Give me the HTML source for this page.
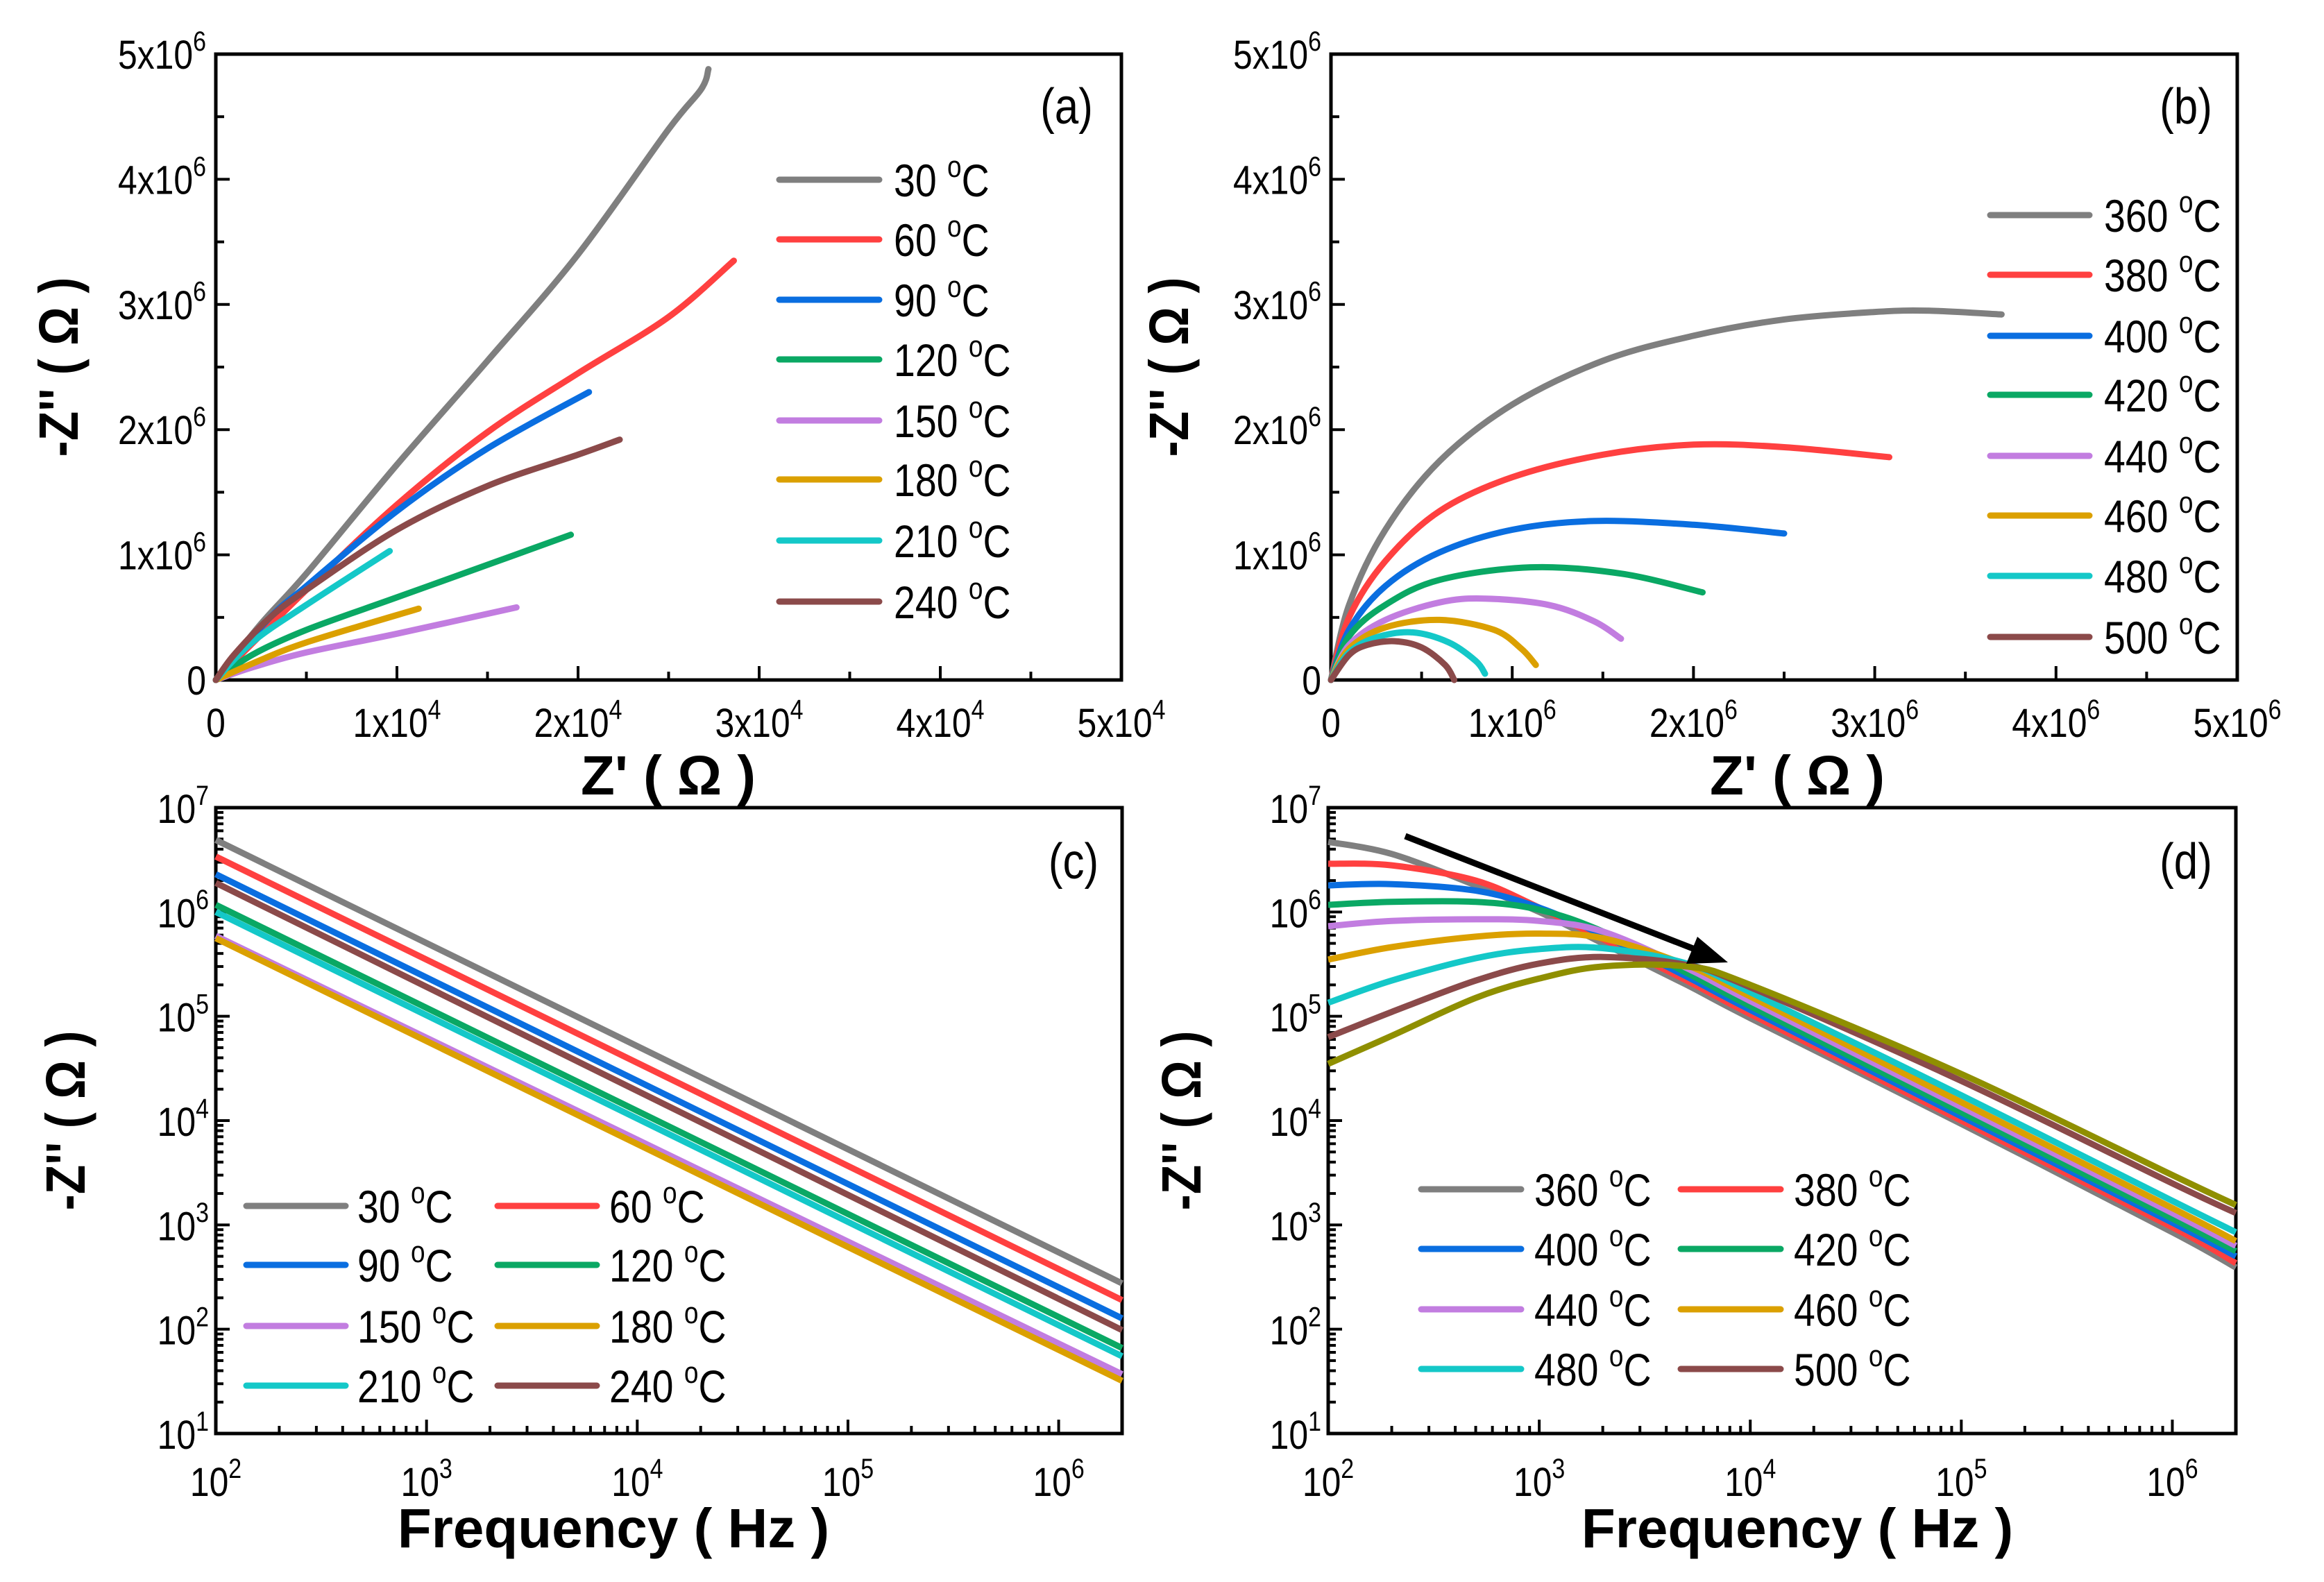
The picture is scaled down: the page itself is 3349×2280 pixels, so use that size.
<!DOCTYPE html>
<html><head><meta charset="utf-8"><style>
html,body{margin:0;padding:0;background:#fff;}
svg{display:block;font-family:"Liberation Sans",sans-serif;}
</style></head><body>
<svg id="fig" width="3349" height="2280" viewBox="0 0 3349 2280" xmlns="http://www.w3.org/2000/svg"></svg>
<script>
// ---------- DATA ----------
const colorsA = ['#7f7f7f','#ff4040','#0a6ee0','#0aa864','#c27de0','#dba000','#14c8c8','#8b4a4a'];
const colorsB = ['#7f7f7f','#ff4040','#0a6ee0','#0aa864','#c27de0','#dba000','#14c8c8','#8b4a4a','#8f8f00'];
const labelsLow = ['30','60','90','120','150','180','210','240'];
const labelsHigh = ['360','380','400','420','440','460','480','500'];

// (a) Nyquist low-T: [Z', -Z'']
const nyqA_30 = [[0,0],[2500,0.45e6],[5000,0.85e6],[10000,1.72e6],[15000,2.55e6],[20000,3.4e6],[25000,4.4e6],[26800,4.72e6],[27200,4.88e6]];
const nyqA_60 = [[0,0],[5000,0.72e6],[10000,1.4e6],[15000,1.98e6],[20000,2.45e6],[25000,2.9e6],[28600,3.35e6]];
const nyqA_90 = [[0,0],[3000,0.5e6],[5000,0.75e6],[10000,1.35e6],[15000,1.85e6],[20600,2.3e6]];
const nyqA_120 = [[0,0],[2000,0.2e6],[5000,0.4e6],[10000,0.66e6],[15000,0.92e6],[19600,1.16e6]];
const nyqA_150 = [[0,0],[2000,0.1e6],[5000,0.22e6],[10000,0.37e6],[16600,0.58e6]];
const nyqA_180 = [[0,0],[2000,0.13e6],[5000,0.3e6],[11200,0.57e6]];
const nyqA_210 = [[0,0],[2000,0.3e6],[5000,0.6e6],[9600,1.03e6]];
const nyqA_240 = [[0,0],[1000,0.2e6],[3000,0.5e6],[5000,0.72e6],[10000,1.2e6],[15000,1.55e6],[20000,1.8e6],[22300,1.92e6]];
const seriesA = [nyqA_30,nyqA_60,nyqA_90,nyqA_120,nyqA_150,nyqA_180,nyqA_210,nyqA_240];

// (b) Nyquist high-T (units 1e6 Ohm)
const nyqB_360 = [[0,0],[0.1,0.6],[0.3,1.2],[0.6,1.75],[1.0,2.2],[1.5,2.55],[2.0,2.75],[2.5,2.88],[3.0,2.94],[3.3,2.95],[3.7,2.92]];
const nyqB_380 = [[0,0],[0.1,0.5],[0.3,0.95],[0.6,1.35],[1.0,1.62],[1.5,1.8],[2.0,1.88],[2.5,1.86],[3.08,1.78]];
const nyqB_400 = [[0,0],[0.1,0.4],[0.3,0.75],[0.6,1.02],[1.0,1.2],[1.45,1.27],[2.0,1.24],[2.5,1.17]];
const nyqB_420 = [[0,0],[0.1,0.35],[0.3,0.6],[0.6,0.8],[1.1,0.9],[1.6,0.85],[2.05,0.7]];
const nyqB_440 = [[0,0],[0.1,0.28],[0.3,0.48],[0.6,0.62],[0.85,0.65],[1.2,0.6],[1.45,0.47],[1.6,0.33]];
const nyqB_460 = [[0,0],[0.1,0.25],[0.3,0.42],[0.6,0.48],[0.9,0.4],[1.05,0.25],[1.13,0.12]];
const nyqB_480 = [[0,0],[0.1,0.22],[0.25,0.34],[0.45,0.38],[0.65,0.3],[0.8,0.15],[0.85,0.05]];
const nyqB_500 = [[0,0],[0.1,0.2],[0.2,0.28],[0.35,0.31],[0.5,0.26],[0.63,0.12],[0.68,0]];
const seriesB = [nyqB_360,nyqB_380,nyqB_400,nyqB_420,nyqB_440,nyqB_460,nyqB_480,nyqB_500];

// (c) -Z'' at 100 Hz and 2 MHz
const freqC = [1e2, 2e6];
const zC_start = [4.9e6,3.4e6,2.3e6,1.17e6,5.9e5,5.6e5,1.0e6,1.9e6];
const zC_end = [275,190,127,66,37,32,55,98];

// (d) -Z'' vs frequency
const freqD = [1e2,2e2,5e2,1e3,2e3,5e3,1e4,1e5,1e6,2e6];
const zD_360 = [4.7e6,3.6e6,1.8e6,1.0e6,5.0e5,2.0e5,9.6e4,9.3e3,8.5e2,3.9e2];
const zD_380 = [2.9e6,2.8e6,2.0e6,1.1e6,5.5e5,2.2e5,1.05e5,1.0e4,9.5e2,4.3e2];
const zD_400 = [1.8e6,1.85e6,1.6e6,1.1e6,6.0e5,2.4e5,1.15e5,1.1e4,1.05e3,5.0e2];
const zD_420 = [1.17e6,1.25e6,1.25e6,1.05e6,6.5e5,2.6e5,1.25e5,1.2e4,1.15e3,5.6e2];
const zD_440 = [7.3e5,8.2e5,8.5e5,8.2e5,6.5e5,2.9e5,1.4e5,1.35e4,1.3e3,6.3e2];
const zD_460 = [3.5e5,4.6e5,5.8e5,6.2e5,5.6e5,3.1e5,1.55e5,1.5e4,1.45e3,7.0e2];
const zD_480 = [1.35e5,2.2e5,3.6e5,4.4e5,4.5e5,3.2e5,1.7e5,1.75e4,1.7e3,8.5e2];
const zD_500 = [6.3e4,1.1e5,2.2e5,3.2e5,3.7e5,3.1e5,1.9e5,2.4e4,2.5e3,1.3e3];
const zD_520 = [3.5e4,6.5e4,1.5e5,2.3e5,3.0e5,3.0e5,2.0e5,2.8e4,3.0e3,1.55e3];
const seriesD = [zD_360,zD_380,zD_400,zD_420,zD_440,zD_460,zD_480,zD_500,zD_520];

// ---------- DRAWING ----------
const NS='http://www.w3.org/2000/svg';
const svg=document.getElementById('fig');
function mk(tag,attrs,parent){const e=document.createElementNS(NS,tag);for(const k in attrs)e.setAttribute(k,attrs[k]);(parent||svg).appendChild(e);return e;}

function txt(x,y,base,sup,size,anchor,parent,name){
  const t=mk('text',{x:0,y:0,'font-size':size,'text-anchor':anchor,fill:'#000',transform:'translate('+x+','+y+') scale(0.86,1)'},parent);
  
  
  t.appendChild(document.createTextNode(base));
  if(sup!==null){const s=mk('tspan',{'font-size':size*0.68,dy:-size*0.45},t);s.textContent=sup;}
  return t;
}
function legendText(x,y,num,parent,name){
  const t=mk('text',{x:0,y:0,'font-size':66,fill:'#000',transform:'translate('+x+','+y+') scale(0.84,1)'},parent);
  
  
  t.appendChild(document.createTextNode(num+' '));
  const s=mk('tspan',{'font-size':44,dy:-28},t);s.textContent='o';
  const c=mk('tspan',{dy:28},t);c.textContent='C';
  return t;
}
function smooth(pts){
  let d='M'+pts[0][0].toFixed(1)+','+pts[0][1].toFixed(1);
  for(let i=0;i<pts.length-1;i++){
    const p0=pts[Math.max(0,i-1)],p1=pts[i],p2=pts[i+1],p3=pts[Math.min(pts.length-1,i+2)];
    const c1=[p1[0]+(p2[0]-p0[0])/6,p1[1]+(p2[1]-p0[1])/6];
    const c2=[p2[0]-(p3[0]-p1[0])/6,p2[1]-(p3[1]-p1[1])/6];
    d+=' C'+c1[0].toFixed(1)+','+c1[1].toFixed(1)+' '+c2[0].toFixed(1)+','+c2[1].toFixed(1)+' '+p2[0].toFixed(1)+','+p2[1].toFixed(1);
  }
  return d;
}
function frame(g,b){
  const r=mk('rect',{x:b.x0,y:b.y0,width:b.x1-b.x0,height:b.y1-b.y0,fill:'none',stroke:'#000','stroke-width':5},g);
  
  
}
function tick(g,x1,y1,x2,y2){mk('line',{x1:x1,y1:y1,x2:x2,y2:y2,stroke:'#000','stroke-width':4},g);}

function linearPanel(id,b,xmax,xexp,ymax,yexp){
  const g=mk('g',{});
  
  
  const sx=v=>b.x0+(v/xmax)*(b.x1-b.x0), sy=v=>b.y1-(v/ymax)*(b.y1-b.y0);
  for(let i=0;i<=10;i++){
    const v=i*xmax/10, X=sx(v), L=i%2===0?20:12;
    if(i>0&&i<10) tick(g,X,b.y1,X,b.y1-L);
    const Y=sy(i*ymax/10);
    if(i>0&&i<10) tick(g,b.x0,Y,b.x0+L,Y);
  }
  for(let i=0;i<=5;i++){
    txt(sx(i*xmax/5),b.y1+82,i===0?'0':i+'x10',i===0?null:String(xexp),58,'middle',g,'x-tick-label');
    txt(b.x0-14,sy(i*ymax/5)+21,i===0?'0':i+'x10',i===0?null:String(yexp),58,'end',g,'y-tick-label');
  }
  frame(g,b);
  return {g,sx,sy};
}
function logPanel(id,b){
  const g=mk('g',{});
  
  
  const lx0=2, lx1=Math.log10(2e6), ly0=1, ly1=7;
  const sx=v=>b.x0+(Math.log10(v)-lx0)/(lx1-lx0)*(b.x1-b.x0);
  const sy=v=>b.y1-(Math.log10(v)-ly0)/(ly1-ly0)*(b.y1-b.y0);
  for(let e=2;e<=6;e++){for(let m=1;m<=9;m++){const v=m*Math.pow(10,e);if(v>2e6)break;const X=sx(v);if(v>1e2&&v<2e6)tick(g,X,b.y1,X,b.y1-(m===1?20:11));}
    txt(sx(Math.pow(10,e)),b.y1+90,'10',String(e),58,'middle',g,'x-tick-label');}
  for(let e=1;e<=7;e++){for(let m=1;m<=9;m++){const v=m*Math.pow(10,e);if(e===7&&m>1)break;const Y=sy(v);if(v>10&&v<1e7)tick(g,b.x0,Y,b.x0+(m===1?20:11),Y);}
    txt(b.x0-10,sy(Math.pow(10,e))+22,'10',String(e),58,'end',g,'y-tick-label');}
  frame(g,b);
  return {g,sx,sy};
}
function yTitle(x,cy,g){
  const t=mk('text',{x:0,y:0,'font-size':80,'font-weight':'bold','text-anchor':'middle',transform:'translate('+x+','+cy+') rotate(-90) scale(0.87,1)'},g);
  
  
  t.textContent="-Z'' ( \u03A9 )";
}
function xTitle(cx,y,s,g){
  const t=mk('text',{x:cx,y:y,'font-size':80,'font-weight':'bold','text-anchor':'middle'},g);
  
  
  t.textContent=s;
}
function panelLabel(x,y,s,g){
  const t=mk('text',{x:0,y:0,'font-size':72,'text-anchor':'middle',transform:'translate('+x+','+y+') scale(0.86,1)'},g);
  
  
  t.textContent=s;
}
function legendEntry(g,lx0,lx1,tx,y,color,num){
  const l=mk('line',{x1:lx0,y1:y,x2:lx1,y2:y,stroke:color,'stroke-width':9,'stroke-linecap':'round'},g);
  
  
  legendText(tx,y+24,num,g,'legend-entry');
}

// Panel (a)
const bA={x0:311,x1:1616,y0:78,y1:980};
const pA=linearPanel('a',bA,5e4,4,5e6,6);
seriesA.forEach((s,i)=>{
  const p=mk('path',{d:smooth(s.map(q=>[pA.sx(q[0]),pA.sy(q[1])])),fill:'none',stroke:colorsA[i],'stroke-width':9,'stroke-linecap':'round'},pA.g);
  
  
});
const legAy=[259,345,432,518,606,691,779,867];
labelsLow.forEach((n,i)=>legendEntry(pA.g,1123,1267,1288,legAy[i],colorsA[i],n));
yTitle(112,529,pA.g); xTitle(963,1145,"Z' ( \u03A9 )",pA.g); panelLabel(1537,178,'(a)',pA.g);

// Panel (b)
const bB={x0:1918,x1:3224,y0:78,y1:980};
const pB=linearPanel('b',bB,5,6,5e6,6);
seriesB.forEach((s,i)=>{
  const p=mk('path',{d:smooth(s.map(q=>[pB.sx(q[0]),pB.sy(q[1]*1e6)])),fill:'none',stroke:colorsA[i],'stroke-width':9,'stroke-linecap':'round'},pB.g);
  
  
});
const legBy=[310,396,484,569,657,743,830,918];
labelsHigh.forEach((n,i)=>legendEntry(pB.g,2868,3011,3032,legBy[i],colorsA[i],n));
yTitle(1712,529,pB.g); xTitle(2590,1145,"Z' ( \u03A9 )",pB.g); panelLabel(3150,178,'(b)',pB.g);

// Panel (c)
const bC={x0:311,x1:1617,y0:1164,y1:2066};
const pC=logPanel('c',bC);
zC_start.forEach((v,i)=>{
  const l=mk('line',{x1:pC.sx(freqC[0]),y1:pC.sy(v),x2:pC.sx(freqC[1]),y2:pC.sy(zC_end[i]),stroke:colorsA[i],'stroke-width':9},pC.g);
  
  
});
const legCy=[1738,1823,1911,1997];
labelsLow.forEach((n,i)=>{const r=Math.floor(i/2),c=i%2;
  if(c===0) legendEntry(pC.g,355,498,515,legCy[r],colorsA[i],n);
  else legendEntry(pC.g,717,860,878,legCy[r],colorsA[i],n);});
yTitle(122,1615,pC.g); xTitle(884,2230,'Frequency ( Hz )',pC.g); panelLabel(1547,1266,'(c)',pC.g);

// Panel (d)
const bD={x0:1914,x1:3222,y0:1164,y1:2066};
const pD=logPanel('d',bD);
seriesD.forEach((s,i)=>{
  const p=mk('path',{d:smooth(s.map((v,j)=>[pD.sx(freqD[j]),pD.sy(v)])),fill:'none',stroke:colorsB[i],'stroke-width':9},pD.g);
  
  
});
const legDy=[1714,1800,1887,1973];
labelsHigh.forEach((n,i)=>{const r=Math.floor(i/2),c=i%2;
  if(c===0) legendEntry(pD.g,2048,2192,2211,legDy[r],colorsA[i],n);
  else legendEntry(pD.g,2422,2566,2585,legDy[r],colorsA[i],n);});
const arr=mk('line',{x1:2025,y1:1205,x2:2455,y2:1373,stroke:'#000','stroke-width':9},pD.g);


const ah=mk('polygon',{points:'2490,1387 2430,1389 2446,1350',fill:'#000'},pD.g);


yTitle(1730,1615,pD.g); xTitle(2590,2230,'Frequency ( Hz )',pD.g); panelLabel(3150,1266,'(d)',pD.g);
</script>
</body></html>
